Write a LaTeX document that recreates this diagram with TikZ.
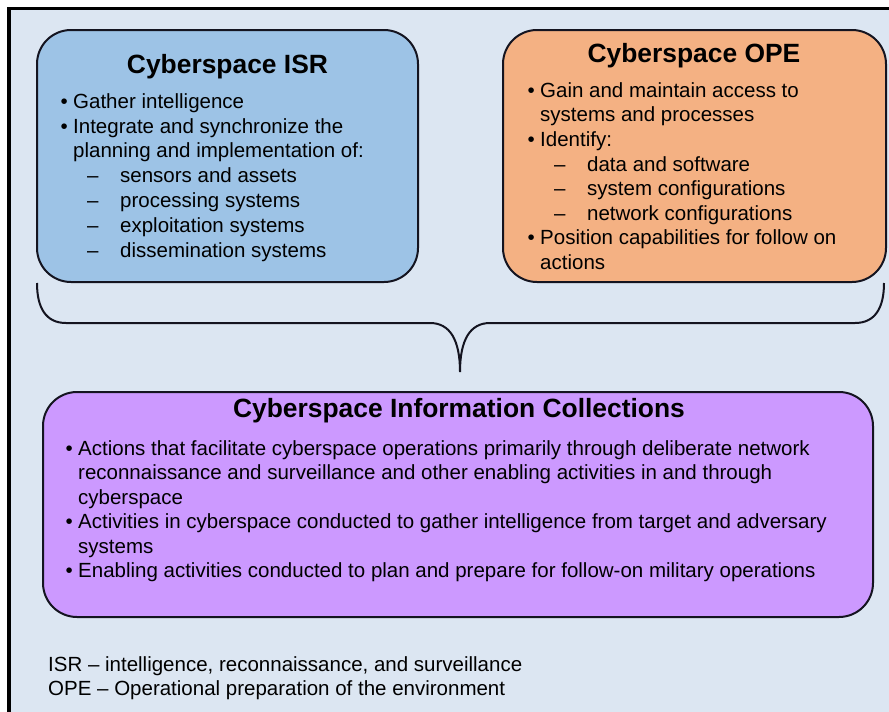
\documentclass[tikz,border=0pt]{standalone}
\usepackage{fontspec}
\setmainfont{Liberation Sans}
\definecolor{bgblue}{HTML}{DCE6F2}
\definecolor{isrfill}{HTML}{9DC3E6}
\definecolor{opefill}{HTML}{F4B183}
\definecolor{icfill}{HTML}{CC99FF}
\definecolor{edge}{HTML}{141420}
\newcommand{\bl}{\makebox[12.5pt][l]{•}}
\newcommand{\cl}{\hspace*{12.5pt}}
\newcommand{\dl}{\hspace*{12.5pt}\hspace*{14pt}\makebox[33pt][l]{–}}
\begin{document}
\begin{tikzpicture}[x=1pt,y=-1pt,
  box/.style={draw=edge,line width=2pt,rounded corners=34pt},
  title/.style={font=\fontsize{26.4}{30}\selectfont\bfseries,inner sep=0pt,anchor=base},
  body/.style={inner sep=0pt,anchor=north west,align=left},
  brace/.style={draw=edge,line width=2pt}]
\useasboundingbox (0,0) rectangle (889,712);
\fill[white] (0,0) rectangle (889,712);
\fill[bgblue] (9,8.5) rectangle (889,712);
\draw[black,line width=3.5pt] (9,712) -- (9,8.5) -- (889,8.5);
% boxes
\draw[box,fill=isrfill] (37,30) rectangle (418,282);
\draw[box,fill=opefill] (503,30) rectangle (886,282);
\draw[box,fill=icfill] (43,392) rectangle (873,617);
% titles
\node[title] (isrt) at (227.5,73) {Cyberspace ISR};
\node[title] (opet) at (694,62) {Cyberspace OPE};
\node[title] (ict) at (459,417) {Cyberspace Information Collections};
% bodies
\node[body] (isrb) at (60.5,108-17.36) {\fontsize{20.5}{24.8}\selectfont
\begin{tabular}{@{}l@{}}
\bl Gather intelligence\\
\bl Integrate and synchronize the\\
\cl planning and implementation of:\\
\dl sensors and assets\\
\dl processing systems\\
\dl exploitation systems\\
\dl dissemination systems
\end{tabular}};
\node[body] (opeb) at (527.5,97-17.22) {\fontsize{20.5}{24.6}\selectfont
\begin{tabular}{@{}l@{}}
\bl Gain and maintain access to\\
\cl systems and processes\\
\bl Identify:\\
\dl data and software\\
\dl system configurations\\
\dl network configurations\\
\bl Position capabilities for follow on\\
\cl actions
\end{tabular}};
\node[body] (icb) at (65.5,455-17.15) {\fontsize{20.5}{24.5}\selectfont
\begin{tabular}{@{}l@{}}
\bl Actions that facilitate cyberspace operations primarily through deliberate network\\
\cl reconnaissance and surveillance and other enabling activities in and through\\
\cl cyberspace\\
\bl Activities in cyberspace conducted to gather intelligence from target and adversary\\
\cl systems\\
\bl Enabling activities conducted to plan and prepare for follow-on military operations
\end{tabular}};
% legend
\node[body] (leg) at (48,672-16.8) {\fontsize{20.5}{23.5}\selectfont
\begin{tabular}{@{}l@{}}
ISR – intelligence, reconnaissance, and surveillance\\
OPE – Operational preparation of the environment
\end{tabular}};
% brace
\coordinate (bl) at (37,283);
\coordinate (br) at (884,283);
\coordinate (tip) at (460,372);
\draw[brace] (bl) .. controls (37,308) and (46,323) .. (66,323) -- (430,323)
  .. controls (450,323) and (460,340) .. (tip)
  .. controls (460,340) and (470,323) .. (490,323) -- (855,323)
  .. controls (875,323) and (884,308) .. (br);
\end{tikzpicture}
\end{document}
